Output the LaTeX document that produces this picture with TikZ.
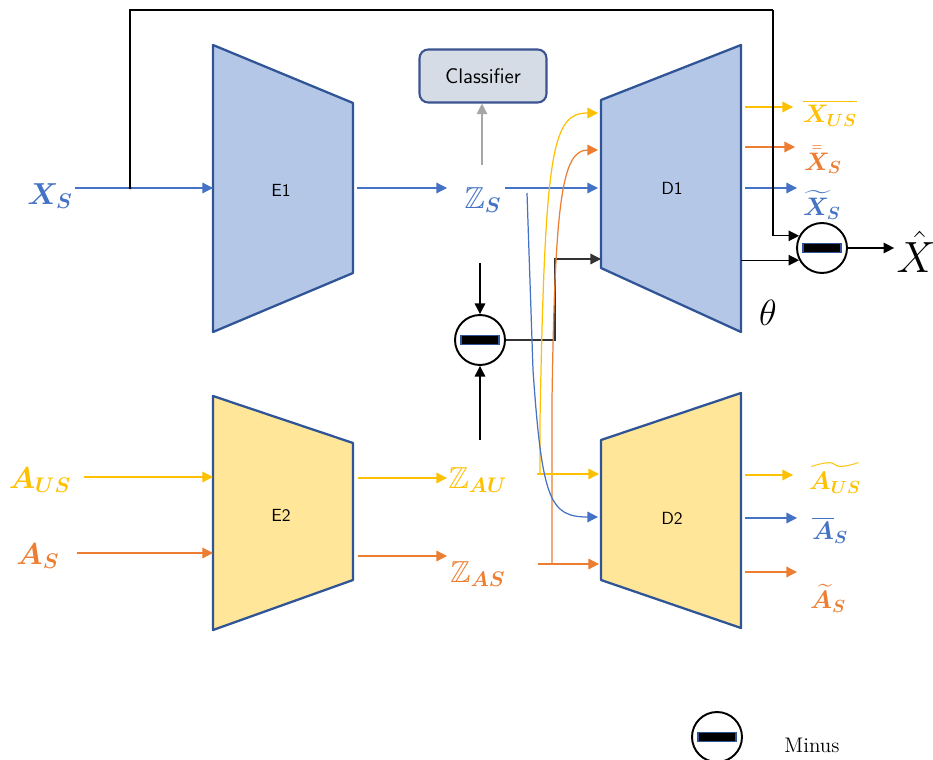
\documentclass[tikz,border=0pt]{standalone}
\usepackage{xcolor}
\usepackage{amsmath}
\usepackage{amssymb}
\usepackage{bm}
\usepackage{tikz}
\usetikzlibrary{calc,arrows.meta}
\definecolor{cblue}{HTML}{4472C4}
\definecolor{corange}{HTML}{ED7D31}
\definecolor{cyellow}{HTML}{FFC000}
\definecolor{encfill}{HTML}{B4C7E7}
\definecolor{ylwfill}{HTML}{FFE699}
\definecolor{boxline}{HTML}{2F5597}
\definecolor{clsfill}{HTML}{D6DCE5}
\definecolor{clsline}{HTML}{3B5490}

\begin{document}
\begin{tikzpicture}[x=0.02cm, y=-0.02cm, line width=0.7pt, >={Triangle[length=6pt,width=6pt]}]
	\tikzstyle{every node} = [inner sep=1pt]
	\tikzstyle{trap} = [draw=boxline, line width=1.3pt, line join=round]
	\tikzstyle{blockname} = [font=\sffamily]
	\tikzstyle{varlbl} = [font=\LARGE]
	\tikzstyle{outlbl} = [font=\Large]
	\tikzstyle{minusop} = [circle, draw, line width=1.1pt, minimum size=1cm, inner sep=0pt]
	\useasboundingbox (0,0) rectangle (933,760);
	% encoders and decoders
	\draw[trap, fill=encfill] (213,45) -- (353,103) -- (353,273) -- (213,332) -- cycle;
	\draw[trap, fill=ylwfill] (213,396) -- (353,443) -- (353,580) -- (213,630) -- cycle;
	\draw[trap, fill=encfill] (601,100) -- (741,45) -- (741,332) -- (601,268) -- cycle;
	\draw[trap, fill=ylwfill] (601,440) -- (741,393) -- (741,628) -- (601,580) -- cycle;
	\node[blockname] (e1) at (281,190) {E1};
	\node[blockname] (e2) at (281,515) {E2};
	\node[blockname] (d1) at (672,188) {D1};
	\node[blockname] (d2) at (672,518) {D2};
	\node[draw=clsline, fill=clsfill, rounded corners=5pt, line width=1.2pt, font=\sffamily\large,
		minimum width=127*0.02cm, minimum height=53*0.02cm] (cls) at (483,76) {Classifier};
	% ports
	\coordinate (e1in) at (213,188);
	\coordinate (e1out) at (353,188);
	\coordinate (e2inA) at (213,477);
	\coordinate (e2inB) at (213,553);
	\coordinate (e2outA) at (358,478);
	\coordinate (e2outB) at (358,556);
	\coordinate (d1out) at (741,263);
	\coordinate (fork) at (130,188);
	\coordinate (topR) at (773,10);
	% variables
	\node[varlbl, cblue] (xs) at (50,196) {$\bm{X_S}$};
	\node[varlbl, cyellow] (aus) at (40,480) {$\bm{A_{US}}$};
	\node[varlbl, corange] (as) at (38,556) {$\bm{A_S}$};
	\node[varlbl, cblue] (zs) at (483,200) {$\mathbb{Z}_{\bm{S}}$};
	\node[varlbl, cyellow] (zau) at (478,480) {$\mathbb{Z}_{\bm{AU}}$};
	\node[varlbl, corange] (zas) at (478,574) {$\mathbb{Z}_{\bm{AS}}$};
	\node[outlbl, cyellow] (xus) at (830,113) {$\overline{\bm{X}_{\bm{US}}}$};
	\node[outlbl, corange] (xsb) at (823,160) {$\bar{\bar{\bm{X}}}_{\bm{S}}$};
	\node[outlbl, cblue] (xst) at (822,205) {$\widetilde{\bm{X}}_{\bm{S}}$};
	\node[outlbl, cyellow] (aust) at (835,478) {$\widetilde{\bm{A}_{\bm{US}}}$};
	\node[outlbl, cblue] (asb) at (830,530) {$\overline{\bm{A}}_{\bm{S}}$};
	\node[outlbl, corange] (ast) at (828,598) {$\widetilde{\bm{A}}_{\bm{S}}$};
	\node[font=\huge] (theta) at (768,313) {$\theta$};
	\node[font=\Huge] (xhat) at (916,252) {$\hat{X}$};
	% minus operators
	\node[minusop] (minusA) at (822,248) {};
	\node[minusop] (minusB) at (480,340) {};
	\node[minusop] (minusL) at (717,737) {};
	\node[font=\large, anchor=west] (mtext) at (782,745) {Minus};
	\foreach \m in {minusA, minusB, minusL}
		{\draw[boxline, fill=black, line width=1pt] ($(\m)+(-19,-4.5)$) rectangle ($(\m)+(19,4.5)$); }
	% inputs
	\draw[->, cblue] (xs.east |- e1in) -- (e1in);
	\fill (fork) circle (1.5);
	\draw[->, cyellow] (aus.east |- e2inA) ++(10,0) -- (e2inA);
	\draw[->, corange] (as.east |- e2inB) ++(15,0) -- (e2inB);
	% encoder outputs
	\draw[->, cblue] (e1out) ++(4,0) -- (447,188);
	\draw[->, cyellow] (e2outA) -- (447,478);
	\draw[->, corange] (e2outB) -- (447,556);
	\draw[->, gray!70] (482,165) -- (cls.south -| 482,0);
	% latent subtraction
	\draw[->] (minusB.north |- 0,263) -- (minusB.north);
	\draw[->] (minusB.south |- 0,440) -- (minusB.south);
	\draw[->, black!80] (minusB.east) -| (555,259) -- (601,259);
	% into D1
	\draw[->, cblue] (505,188) -- (598,188);
	\draw[->, cyellow] (540,474) -- (540,420) .. controls (545,150) and (552,113) .. (598,113);
	\draw[->, corange] (552,564) -- (552,400) .. controls (555,200) and (562,150) .. (598,150);
	% into D2
	\draw[->, cyellow] (537,474) -- (599,474);
	\draw[->, corange] (538,564) -- (599,564);
	\draw[->, cblue] (527,193) -- (533,370) .. controls (542,500) and (550,517) .. (598,517);
	% decoder outputs
	\foreach \c/\y/\e in {cyellow/107/793, corange/147/795, cblue/188/797, cyellow/475/793, cblue/518/797, corange/572/797}
		{\draw[->, \c] (745,\y) -- (\e,\y); }
	% skip and reconstruction
	\draw (fork) |- (topR);
	\draw[->] (topR) |- (minusA.152);
	\draw[->] (d1out |- minusA.208) -- (minusA.208);
	\draw[->] (minusA.east) -- (minusA.east -| xhat.west);
\end{tikzpicture}
\end{document}
